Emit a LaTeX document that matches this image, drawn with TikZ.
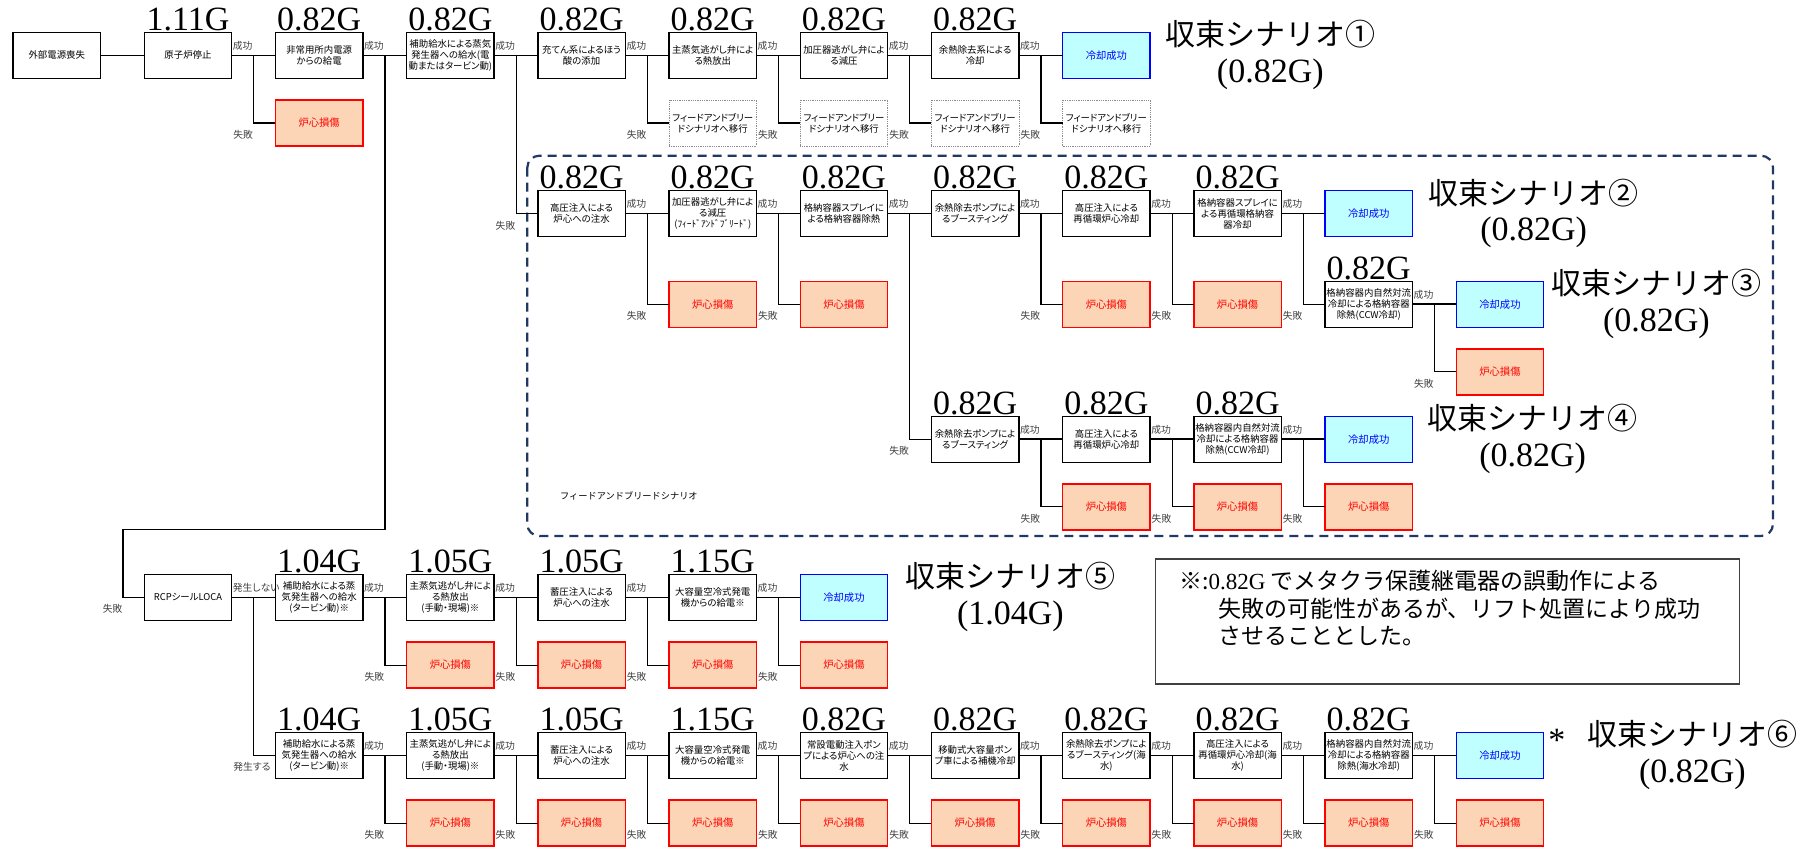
\documentclass[tikz,border=0pt]{standalone}
\usepackage{fontspec}
\setmainfont{Liberation Serif}
\newfontfamily\jp[RawFeature=+palt]{Noto Sans CJK JP}
\newfontfamily\jpw{Noto Sans CJK JP}
\usepackage{xcolor}
\usetikzlibrary{chains,positioning}
\definecolor{corefill}{RGB}{251,213,181}
\definecolor{coolfill}{RGB}{192,255,255}
\definecolor{fbnavy}{RGB}{31,56,100}
\newcommand\boxfont{\jp\fontsize{9.4}{11}\selectfont}
\newcommand\resfont{\jp\fontsize{10.3}{11}\selectfont}
\newcommand\labfont{\jp\fontsize{9.8}{10}\selectfont}
\newcommand\gfont{\rmfamily\fontsize{34}{34}\selectfont}
\newcommand\scfont{\jpw\fontsize{30}{30}\selectfont}
\newcommand\notefont{\jpw\fontsize{23}{27.5}\selectfont}
\begin{document}
\begin{tikzpicture}[x=1pt,y=-1pt,
		box/.style={draw,line width=1.4pt,minimum width=87.5pt,minimum height=46pt,text width=85.5pt,inner sep=1pt,outer sep=0pt,align=center,font=\boxfont},
		core/.style={box,draw=red,fill=corefill,text=red,font=\resfont},
		cool/.style={box,draw=blue,fill=coolfill,text=blue,font=\resfont},
		fnb/.style={box,draw=black!45,line width=0.8pt,densely dotted,font=\boxfont},
		gl/.style={font=\gfont,inner sep=0pt,yshift=1.5pt},
		gval/.style={label={[gl]north:#1}},
		lab/.style={font=\labfont,text=black!75,inner sep=0pt},
		suc/.style={label={[lab,anchor=south west,xshift=1pt,yshift=5pt]east:#1}},
		suc/.default=成功,
		fl/.style={lab,pos=0.5,anchor=north west,xshift=-21pt,yshift=-6.5pt},
		conn/.style={draw,line width=1.5pt},
		br/.style={line width=1.2pt},
		sct/.style={font=\scfont,inner sep=0pt},
		scv/.style={font=\gfont,inner sep=0pt},
		start chain=1 going right,node distance=43.7pt]
	\useasboundingbox (0,0) rectangle (1809,846);
	% feed and bleed region
	\draw[fbnavy,line width=2.2pt,dash pattern=on 9pt off 6pt,rounded corners=12pt] (527.3,155.7) rectangle (1773,536);
	\node[font=\jpw\fontsize{9.2}{10}\selectfont,anchor=west,inner sep=0pt] (fbname) at (560,496) {フィードアンドブリードシナリオ};
	% row 1
	\node[on chain=1,box] at (56.75,55.3) (r1a) {外部電源喪失};
	\node[on chain=1,box,join=by conn,gval=1.11G,suc] (r1b) {原子炉停止};
	\node[on chain=1,box,join=by conn,gval=0.82G,suc] (r1c) {非常用所内電源\\からの給電};
	\node[on chain=1,box,join=by conn,gval=0.82G,suc] (r1d) {補助給水による蒸気\\発生器への給水(電\\動またはタービン動)};
	\node[on chain=1,box,join=by conn,gval=0.82G,suc] (r1e) {充てん系によるほう\\酸の添加};
	\node[on chain=1,box,join=by conn,gval=0.82G,suc] (r1f) {主蒸気逃がし弁によ\\る熱放出};
	\node[on chain=1,box,join=by conn,gval=0.82G,suc] (r1g) {加圧器逃がし弁によ\\る減圧};
	\node[on chain=1,box,join=by conn,gval=0.82G,suc] (r1h) {余熱除去系による\\冷却};
	\node[on chain=1,cool,join=by conn] (r1i) {冷却成功};
	\node[core,below=21.6pt of r1c] (d1c) {炉心損傷};
	\foreach \c in {f,g,h,i}
		\node[fnb,below=21.6pt of r1\c] (f1\c) {フィードアンドブリー\\ドシナリオへ移行};
	\draw[br] ([xshift=22pt]r1b.east) |- node[fl] {失敗} (d1c.west);
	\foreach \a/\c in {e/f,f/g,g/h,h/i}
		\draw[br] ([xshift=22pt]r1\a.east) |- node[fl] {失敗} (f1\c.west);
	% row 2
	\begin{scope}[start chain=2 going right]
		\node[on chain=2,box,gval=0.82G,suc] at (581.55,213.7) (r2a) {高圧注入による\\炉心への注水};
		\node[on chain=2,box,join=by conn,gval=0.82G,suc] (r2b) {加圧器逃がし弁によ\\る減圧\\(ﾌｨｰﾄﾞｱﾝﾄﾞﾌﾞﾘｰﾄﾞ)};
		\node[on chain=2,box,join=by conn,gval=0.82G,suc] (r2c) {格納容器スプレイに\\よる格納容器除熱};
		\node[on chain=2,box,join=by conn,gval=0.82G,suc] (r2d) {余熱除去ポンプによ\\るブースティング};
		\node[on chain=2,box,join=by conn,gval=0.82G,suc] (r2e) {高圧注入による\\再循環炉心冷却};
		\node[on chain=2,box,join=by conn,gval=0.82G,suc] (r2f) {格納容器スプレイに\\よる再循環格納容\\器冷却};
		\node[on chain=2,cool,join=by conn] (r2g) {冷却成功};
	\end{scope}
	\foreach \c in {b,c,e,f}
		\node[core,below=44.5pt of r2\c] (d2\c) {炉心損傷};
	\foreach \a/\c in {a/b,b/c,d/e,e/f}
		\draw[br] ([xshift=22pt]r2\a.east) |- node[fl] {失敗} (d2\c.west);
	\draw[br] ([xshift=22pt]r1d.east) |- node[fl] {失敗} (r2a.west);
	% row 3
	\begin{scope}[start chain=3 going right]
		\node[on chain=3,box,below=44.5pt of r2g,gval=0.82G,suc] (r3a) {格納容器内自然対流\\冷却による格納容器\\除熱(CCW冷却)};
		\node[on chain=3,cool,join=by conn] (r3b) {冷却成功};
	\end{scope}
	\node[core,below=21.6pt of r3b] (d3b) {炉心損傷};
	\draw[br] ([xshift=22pt]r2f.east) |- node[fl] {失敗} (r3a.west);
	\draw[br] ([xshift=22pt]r3a.east) |- node[fl] {失敗} (d3b.west);
	% row 4
	\begin{scope}[start chain=4 going right]
		\node[on chain=4,box,gval=0.82G,suc] at (975.15,439.2) (r4a) {余熱除去ポンプによ\\るブースティング};
		\node[on chain=4,box,join=by conn,gval=0.82G,suc] (r4b) {高圧注入による\\再循環炉心冷却};
		\node[on chain=4,box,join=by conn,gval=0.82G,suc] (r4c) {格納容器内自然対流\\冷却による格納容器\\除熱(CCW冷却)};
		\node[on chain=4,cool,join=by conn] (r4d) {冷却成功};
	\end{scope}
	\foreach \c in {b,c,d}
		\node[core,below=21.6pt of r4\c] (d4\c) {炉心損傷};
	\foreach \a/\c in {a/b,b/c,c/d}
		\draw[br] ([xshift=22pt]r4\a.east) |- node[fl] {失敗} (d4\c.west);
	\draw[br] ([xshift=22pt]r2c.east) |- node[fl] {失敗} (r4a.west);
	% row 5, RCP seal LOCA
	\begin{scope}[start chain=5 going right]
		\node[on chain=5,box,suc=発生しない] at (187.95,597.5) (r5a) {RCPシールLOCA};
		\node[on chain=5,box,join=by conn,gval=1.04G,suc] (r5b) {補助給水による蒸\\気発生器への給水\\(タービン動)※};
		\node[on chain=5,box,join=by conn,gval=1.05G,suc] (r5c) {主蒸気逃がし弁によ\\る熱放出\\(手動・現場)※};
		\node[on chain=5,box,join=by conn,gval=1.05G,suc] (r5d) {蓄圧注入による\\炉心への注水};
		\node[on chain=5,box,join=by conn,gval=1.15G,suc] (r5e) {大容量空冷式発電\\機からの給電※};
		\node[on chain=5,cool,join=by conn] (r5f) {冷却成功};
	\end{scope}
	\foreach \c in {c,d,e,f}
		\node[core,below=21.6pt of r5\c] (d5\c) {炉心損傷};
	\foreach \a/\c in {b/c,c/d,d/e,e/f}
		\draw[br] ([xshift=22pt]r5\a.east) |- node[fl] {失敗} (d5\c.west);
	\coordinate (lturn) at (123,529.3);
	\draw[br] ([xshift=22pt]r1c.east) |- (lturn) |- node[lab,pos=0.5,anchor=north east,yshift=-6.5pt] {失敗} (r5a.west);
	% row 6
	\begin{scope}[start chain=6 going right]
		\node[on chain=6,box,gval=1.04G,suc] at (319.15,755.5) (r6a) {補助給水による蒸\\気発生器への給水\\(タービン動)※};
		\node[on chain=6,box,join=by conn,gval=1.05G,suc] (r6b) {主蒸気逃がし弁によ\\る熱放出\\(手動・現場)※};
		\node[on chain=6,box,join=by conn,gval=1.05G,suc] (r6c) {蓄圧注入による\\炉心への注水};
		\node[on chain=6,box,join=by conn,gval=1.15G,suc] (r6d) {大容量空冷式発電\\機からの給電※};
		\node[on chain=6,box,join=by conn,gval=0.82G,suc] (r6e) {常設電動注入ポン\\プによる炉心への注\\水};
		\node[on chain=6,box,join=by conn,gval=0.82G,suc] (r6f) {移動式大容量ポン\\プ車による補機冷却};
		\node[on chain=6,box,join=by conn,gval=0.82G,suc] (r6g) {余熱除去ポンプによ\\るブースティング(海\\水)};
		\node[on chain=6,box,join=by conn,gval=0.82G,suc] (r6h) {高圧注入による\\再循環炉心冷却(海\\水)};
		\node[on chain=6,box,join=by conn,gval=0.82G,suc] (r6i) {格納容器内自然対流\\冷却による格納容器\\除熱(海水冷却)};
		\node[on chain=6,cool,join=by conn] (r6j) {冷却成功};
	\end{scope}
	\foreach \c in {b,c,d,e,f,g,h,i,j}
		\node[core,below=21.6pt of r6\c] (d6\c) {炉心損傷};
	\foreach \a/\c in {a/b,b/c,c/d,d/e,e/f,f/g,g/h,h/i,i/j}
		\draw[br] ([xshift=22pt]r6\a.east) |- node[fl] {失敗} (d6\c.west);
	\draw[br] ([xshift=22pt]r5a.east) |- node[fl] {発生する} (r6a.west);
	% end scenarios
	\node[sct,anchor=west] (sc1) at ([xshift=15pt,yshift=21pt]r1i.east) {収束シナリオ①};
	\node[scv] (sc1v) at ([yshift=-40pt]sc1.center) {(0.82G)};
	\node[sct,anchor=west] (sc2) at ([xshift=16pt,yshift=21pt]r2g.east) {収束シナリオ②};
	\node[scv] (sc2v) at ([yshift=-40pt]sc2.center) {(0.82G)};
	\node[sct,anchor=west] (sc3) at ([xshift=7.5pt,yshift=21pt]r3b.east) {収束シナリオ③};
	\node[scv] (sc3v) at ([yshift=-40pt]sc3.center) {(0.82G)};
	\node[sct,anchor=west] (sc4) at ([xshift=15pt,yshift=21pt]r4d.east) {収束シナリオ④};
	\node[scv] (sc4v) at ([yshift=-40pt]sc4.center) {(0.82G)};
	\node[sct,anchor=west] (sc5) at ([xshift=17.5pt,yshift=21pt]r5f.east) {収束シナリオ⑤};
	\node[scv] (sc5v) at ([yshift=-40pt]sc5.center) {(1.04G)};
	\node[scv,anchor=west] (ast) at ([xshift=4.5pt,yshift=15.5pt]r6j.east) {*};
	\node[sct,anchor=west] (sc6) at ([xshift=43.5pt,yshift=21pt]r6j.east) {収束シナリオ⑥};
	\node[scv] (sc6v) at ([yshift=-40pt]sc6.center) {(0.82G)};
	% note
	\draw[black!75,line width=1.5pt] (1155.5,559) rectangle (1739.5,684);
	\node[font=\notefont,anchor=north west,align=left,inner sep=0pt] (note) at (1179,570) {※:{\rmfamily 0.82G} でメタクラ保護継電器の誤動作による\\\hspace*{39pt}失敗の可能性があるが、リフト処置により成功\\\hspace*{39pt}させることとした。};
\end{tikzpicture}
\end{document}
